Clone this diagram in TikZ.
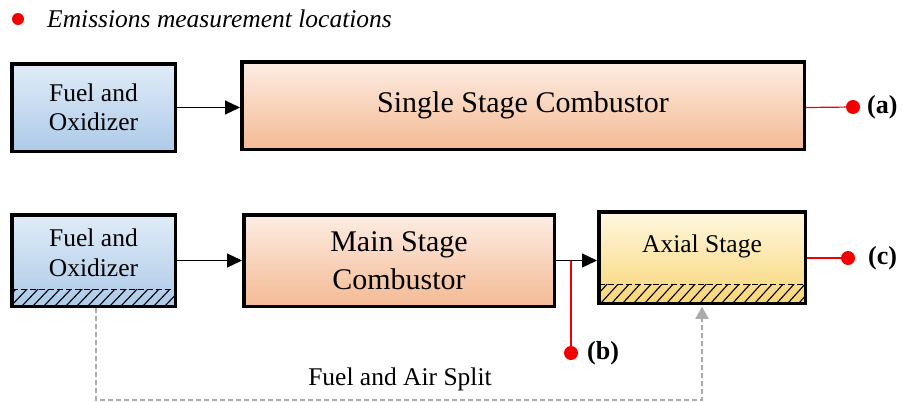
\documentclass[tikz,border=0pt]{standalone}
\usepackage{fontspec}
\setmainfont{Liberation Serif}
\usetikzlibrary{arrows.meta}

\definecolor{bluetop}{HTML}{E0ECF8}
\definecolor{bluebot}{HTML}{ADCAE8}
\definecolor{peachtop}{HTML}{FDEDE3}
\definecolor{peachbot}{HTML}{F4BA94}
\definecolor{goldtop}{HTML}{FFF8E0}
\definecolor{goldbot}{HTML}{F8D577}
\definecolor{splitgray}{HTML}{ABABAB}
\definecolor{probered}{HTML}{F20000}

\begin{document}
\begin{tikzpicture}[x=1pt,y=-1pt,
  block/.style={draw=black, line width=3.5pt, rectangle, inner sep=0pt,
    align=center, font=\fontsize{25.5}{29.5}\selectfont},
  bigblock/.style={block, font=\fontsize{30}{38}\selectfont},
  fuelbox/.style={block, top color=bluetop, bottom color=bluebot},
  combbox/.style={bigblock, top color=peachtop, bottom color=peachbot},
  axialbox/.style={block, top color=goldtop, bottom color=goldbot},
  boxtext/.style={inner sep=0pt, align=center, font=\fontsize{25.5}{29.5}\selectfont},
  flow/.style={line width=1.2pt, -{Triangle[length=15pt,width=14pt]}},
  probe/.style={draw=probered, line width=1.2pt},
  probedot/.style={fill=probered},
  probelabel/.style={anchor=west, inner sep=0pt, font=\fontsize{26}{30}\selectfont\bfseries},
  split/.style={draw=splitgray, line width=1.5pt, dash pattern=on 5pt off 3pt},
  hatch/.style={line width=1.1pt},
  bandedge/.style={line width=1.5pt, dash pattern=on 6pt off 3pt},
]
\useasboundingbox (0,0) rectangle (903,402);

% legend
\fill[probedot] (18,19) circle (6);
\node[anchor=base west, inner sep=0pt, font=\fontsize{25.5}{30}\selectfont\itshape]
  (legend) at (47,27) {Emissions measurement locations};

% (a) single stage arrangement
\node[fuelbox, minimum width=163.5pt, minimum height=87.5pt] (a1) at (93.5,107.5)
  {Fuel and\\Oxidizer};
\node[combbox, minimum width=562.5pt, minimum height=87.5pt] (a2) at (523,105.5)
  {Single Stage Combustor};
\draw[flow] (a1.east) -- (a1.east -| a2.west);
\coordinate (pa) at (853,107);
\draw[probe] (a1.east -| a2.east) -- (pa);
\fill[probedot] (pa) circle (7);
\node[probelabel] (la) at (867,107) {(a)};

% (b)/(c) axially staged arrangement
\node[fuelbox, minimum width=163.5pt, minimum height=91.5pt] (b1) at (93.5,260.5) {};
\node[boxtext] (b1txt) at (93.5,253) {Fuel and\\Oxidizer};
\node[combbox, minimum width=310.5pt, minimum height=91.5pt] (b2) at (399,260.5)
  {Main Stage\\Combustor};
\node[axialbox, minimum width=206.5pt, minimum height=91.5pt] (b3) at (702,257.5) {};
\node[boxtext] (b3txt) at (702,246) {Axial Stage};

% hatched split bands
\begin{scope}
  \clip (11.75,289) rectangle (175.25,304.5);
  \foreach \x in {0,11,...,187} \draw[hatch] (\x,306) -- (\x+18,287);
\end{scope}
\draw[bandedge] (11.75,289.5) -- (175.25,289.5);
\begin{scope}
  \clip (598.75,284) rectangle (805.25,301.5);
  \foreach \x in {590,601,...,820} \draw[hatch] (\x,303) -- (\x+19,282);
\end{scope}
\draw[bandedge] (598.75,284.5) -- (805.25,284.5);

\draw[flow] (b1.east) -- (b1.east -| b2.west);
\draw[flow] (b2.east) -- (b2.east -| b3.west);

% probe (b) between the stages
\coordinate (jb) at (571,260.5);
\coordinate (pb) at (571,353);
\draw[probe] (jb) -- (pb);
\fill[probedot] (pb) circle (7);
\node[probelabel] (lb) at (587,353) {(b)};

% probe (c) at the exit
\coordinate (pc) at (848,258);
\draw[probe] (pc -| b3.east) -- (pc);
\fill[probedot] (pc) circle (7);
\node[probelabel] (lc) at (868,258) {(c)};

% fuel and air split
\coordinate (s1) at (96,400);
\coordinate (s2) at (702,400);
\draw[split, -{Triangle[length=12pt,width=13pt]}, shorten >=1.75pt]
  (b1.south -| s1) -- (s1) -- (s2) -- (b3.south);
\node[font=\fontsize{25.5}{30}\selectfont, inner sep=0pt] (splitlabel) at (400,379)
  {Fuel and Air Split};
\end{tikzpicture}
\end{document}
